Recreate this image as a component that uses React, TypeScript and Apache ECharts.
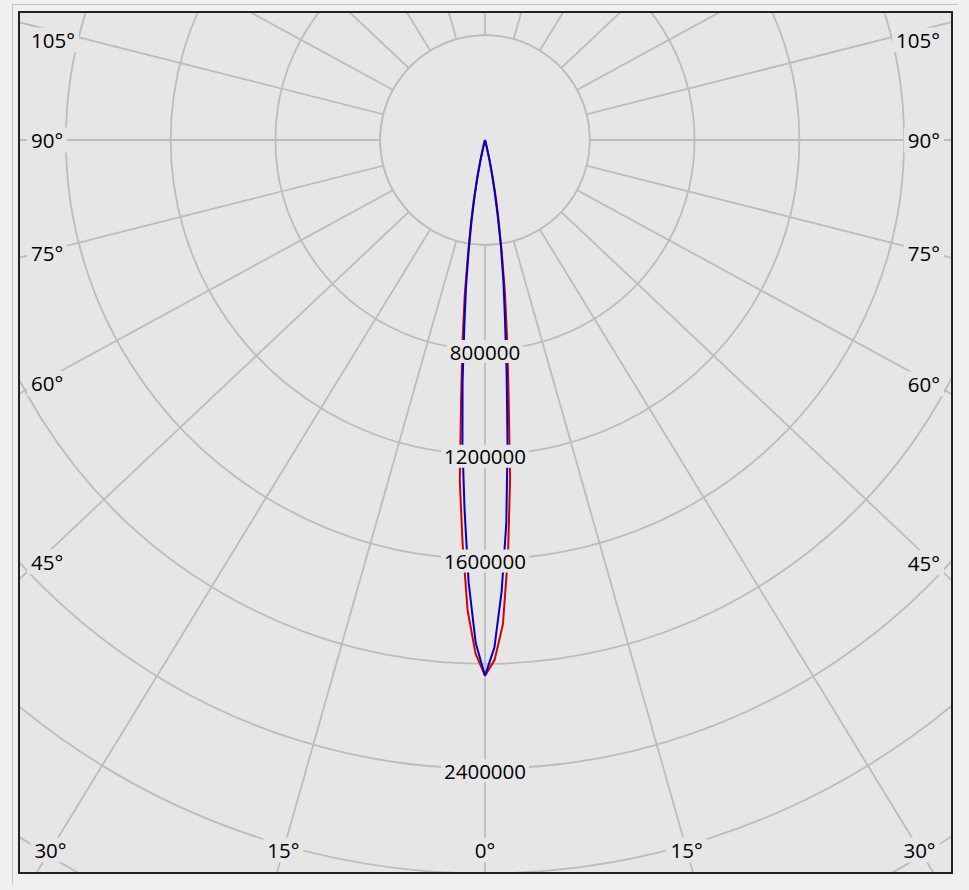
import React, { useEffect, useRef } from "react";
import * as echarts from "echarts";

// gamma angles (degrees from nadir)
const GAMMA = [0, 1, 2, 3, 4, 5, 6, 7, 8, 9, 10, 11, 12, 13, 14, 15, 20, 30, 45, 60, 75, 90, 105, 120, 135, 150, 165, 180];

// candela values
const RED_C0 = [2045000, 1985000, 1850000, 1585000, 1295000, 975000, 760000, 590000, 435000, 320000, 230000, 145000, 78000, 30000, 10000, 0, 0, 0, 0, 0, 0, 0, 0, 0, 0, 0, 0, 0];
const RED_C180 = [2045000, 1960000, 1797000, 1543000, 1303000, 985000, 775000, 600000, 440000, 330000, 235000, 150000, 80000, 32000, 10000, 0, 0, 0, 0, 0, 0, 0, 0, 0, 0, 0, 0, 0];
const BLUE_C90 = [2045000, 1938000, 1722000, 1466000, 1164000, 895000, 690000, 545000, 415000, 292000, 200000, 130000, 72000, 30000, 10000, 0, 0, 0, 0, 0, 0, 0, 0, 0, 0, 0, 0, 0];
const BLUE_C270 = [2045000, 1920000, 1690000, 1410000, 1165000, 927000, 712000, 560000, 418000, 305000, 212000, 136000, 74000, 30000, 10000, 0, 0, 0, 0, 0, 0, 0, 0, 0, 0, 0, 0, 0];

const RADIUS_LABELS = [800000, 1200000, 1600000, 2400000];
const ANGLE_LABELS = [0, 15, 30, 45, 60, 75, 90, 105];

const R_MAX = 3600000;
const R_STEP = 400000;
const A_STEP = 15;

const W = 931;
const H = 859;
const CX = 465;
const CY = 127;
const RPX = 943;
// the diagram's angular projection is slightly widened sideways
const SIDE_STRETCH = 1.06;

const BG = "#e6e6e6";
const GRID = "#bcbcbc";
const GRID_W = 1.8;
const FONT = "Open Sans";
const FS = 20.5;

// gamma angle -> angle position on the diagram
function disp(g: number) {
  const r = (g * Math.PI) / 180;
  return (Math.atan2(SIDE_STRETCH * Math.sin(r), Math.cos(r)) * 180) / Math.PI;
}

function plane(right: number[], left: number[]) {
  const pts: number[][] = [];
  for (let i = GAMMA.length - 1; i >= 0; i--) pts.push([right[i], disp(-GAMMA[i])]);
  for (let i = 1; i < GAMMA.length; i++) pts.push([left[i], disp(GAMMA[i])]);
  return pts;
}

function fallbackPx(r: number, a: number) {
  const d = (r / R_MAX) * RPX;
  const rad = (a * Math.PI) / 180;
  return [CX - d * Math.sin(rad), CY + d * Math.cos(rad)];
}

export default function App() {
  const ref = useRef<HTMLDivElement>(null);

  useEffect(() => {
    if (!ref.current) return;
    const chart = echarts.init(ref.current, undefined, { renderer: "svg", width: W, height: H });

    const spokeValues: number[] = [];
    for (let g = -180; g <= 180; g += A_STEP) spokeValues.push(disp(g));

    const option: any = {
      animation: false,
      backgroundColor: BG,
      polar: { center: [CX, CY], radius: RPX },
      angleAxis: {
        type: "value",
        min: -180,
        max: 180,
        interval: A_STEP,
        startAngle: 90,
        clockwise: true,
        axisLine: { show: false },
        axisTick: { show: false, customValues: spokeValues },
        axisLabel: { show: false },
        splitLine: { show: true, lineStyle: { color: GRID, width: GRID_W } },
        z: 0,
      },
      radiusAxis: {
        type: "value",
        min: 0,
        max: R_MAX,
        interval: R_STEP,
        axisLine: { show: false },
        axisTick: { show: false },
        axisLabel: { show: false },
        splitLine: { show: true, lineStyle: { color: GRID, width: GRID_W } },
        z: 0,
      },
      series: [
        {
          type: "line",
          coordinateSystem: "polar",
          name: "C0-C180",
          data: plane(RED_C0, RED_C180),
          symbol: "none",
          lineStyle: { color: "#d40000", width: 2 },
          z: 3,
        },
        {
          type: "line",
          coordinateSystem: "polar",
          name: "C90-C270",
          data: plane(BLUE_C90, BLUE_C270),
          symbol: "none",
          lineStyle: { color: "#0000c8", width: 2 },
          z: 4,
        },
      ],
    };
    chart.setOption(option);

    const toPx = (r: number, a: number) => {
      let p: any = null;
      try {
        p = chart.convertToPixel({ polarIndex: 0 } as any, [r, a]);
      } catch (e) {
        p = null;
      }
      if (!p || !isFinite(p[0]) || !isFinite(p[1])) p = fallbackPx(r, a);
      return p as number[];
    };

    const graphics: any[] = [];
    const c0 = toPx(0, 0);
    const r1 = toPx(R_STEP, 0);
    const innerR = Math.abs(r1[1] - c0[1]);
    graphics.push({
      type: "circle",
      silent: true,
      z: 1,
      shape: { cx: c0[0], cy: c0[1], r: innerR },
      style: { fill: BG, stroke: GRID, lineWidth: GRID_W },
    });

    RADIUS_LABELS.forEach((v) => {
      const p = toPx(v, 0);
      graphics.push({
        type: "text",
        silent: true,
        z: 50,
        x: p[0],
        y: p[1] + 2,
        style: {
          text: String(v),
          fontSize: FS,
          fontFamily: FONT,
          fill: "#000",
          align: "center",
          verticalAlign: "middle",
          backgroundColor: BG,
          padding: [1, 3],
        },
      });
    });

    const LEFT_X = 18;
    const RIGHT_X = W - 18;
    const BOTTOM_Y = 837;
    const TOP_MIN_Y = 27;
    ANGLE_LABELS.forEach((a) => {
      const sides = a === 0 ? [1] : [1, -1];
      sides.forEach((s) => {
        const pe = toPx(R_MAX, disp(s * a));
        const dx = pe[0] - c0[0];
        const dy = pe[1] - c0[1];
        let x = 0;
        let y = 0;
        let align = "center";
        let placed = false;
        if (dy > 1) {
          const t = (BOTTOM_Y - c0[1]) / dy;
          const bx = c0[0] + t * dx;
          if (bx >= LEFT_X && bx <= RIGHT_X) {
            x = bx;
            y = BOTTOM_Y;
            placed = true;
          }
        }
        if (!placed) {
          const xs = dx < 0 ? LEFT_X : RIGHT_X;
          const t = (xs - c0[0]) / dx;
          y = Math.max(c0[1] + t * dy, TOP_MIN_Y);
          if (dx < 0) {
            x = 7;
            align = "left";
          } else {
            x = W - 7;
            align = "right";
          }
        }
        graphics.push({
          type: "text",
          silent: true,
          z: 50,
          x,
          y,
          style: {
            text: a + "°",
            fontSize: FS,
            fontFamily: FONT,
            fill: "#000",
            align,
            verticalAlign: "middle",
            backgroundColor: BG,
            padding: [2, 4],
          },
        });
      });
    });

    chart.setOption({ graphic: { elements: graphics } });

    return () => {
      chart.dispose();
    };
  }, []);

  return (
    <div
      style={{
        position: "fixed",
        left: 0,
        top: 0,
        width: 969,
        height: 890,
        background: "#f0f0f0",
        overflow: "hidden",
      }}
    >
      <div
        style={{
          position: "absolute",
          left: 12,
          top: 4,
          width: 946,
          height: 880,
          borderTop: "1px solid #c4c4c4",
          borderLeft: "1px solid #c4c4c4",
          boxSizing: "border-box",
        }}
      />
      <div
        style={{
          position: "absolute",
          left: 18,
          top: 11,
          width: 935,
          height: 863,
          border: "2px solid #222",
          boxSizing: "border-box",
          background: BG,
        }}
      >
        <div
          ref={ref}
          style={{ position: "absolute", left: 0, top: 0, width: W, height: H, overflow: "hidden" }}
        />
      </div>
    </div>
  );
}
